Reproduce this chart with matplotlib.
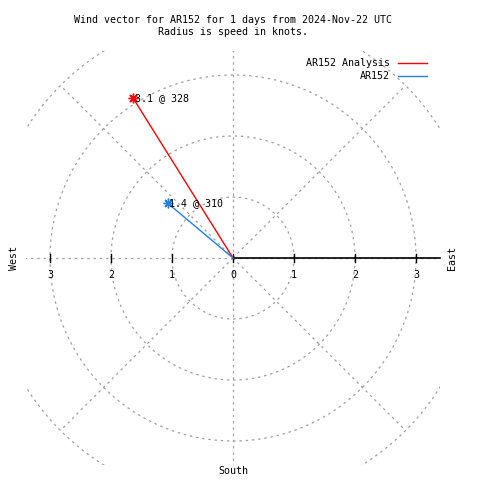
import numpy as np
import matplotlib
matplotlib.use("Agg")
import matplotlib.pyplot as plt

# ================================
# Data
# ================================
names = ["AR152 Analysis", "AR152"]
speeds = [3.1, 1.4]          # knots
directions = [328, 310]      # degrees, clockwise from north
colors = ["#ff0000", "#1f80e8"]
rings = [1, 2, 3, 4]
spokes = [0, 45, 90, 135, 180, 225, 270, 315]
tick_vals = [-3, -2, -1, 0, 1, 2, 3]
tick_text = ["3", "2", "1", "0", "1", "2", "3"]
title = "Wind vector for AR152 for 1 days from 2024-Nov-22 UTC\nRadius is speed in knots."

FONT = "DejaVu Sans Mono"
FS = 7.2
GRID = "#a0a0a0"
DASH = (0, (2, 3))

# ================================
# Figure / axes (box of +-3.4 knots)
# ================================
W = 480
fig = plt.figure(figsize=(4.8, 4.8), dpi=100)
R = 3.4
ppk = 61.0                      # pixels per knot
cx, cy = 233, 258               # centre in pixels (from top)
half = R * ppk
ax = fig.add_axes([(cx - half) / W, (W - cy - half) / W, 2 * half / W, 2 * half / W])
ax.set_xlim(-R, R)
ax.set_ylim(-R, R)
ax.set_aspect("equal")
ax.axis("off")

# grid circles
t = np.linspace(0, 2 * np.pi, 400)
for r in rings:
    ax.plot(r * np.cos(t), r * np.sin(t), color=GRID, lw=0.9, ls=DASH)

# radial spokes (out to the outer ring)
for a in spokes:
    rad = np.deg2rad(a)
    ax.plot([0, rings[-1] * np.cos(rad)], [0, rings[-1] * np.sin(rad)],
            color=GRID, lw=0.9, ls=DASH)

# polar axis (solid) with ticks
ax.plot([0, R], [0, 0], color="black", lw=1.2, clip_on=False)
for v, s in zip(tick_vals, tick_text):
    ax.plot([v, v], [-0.07, 0.07], color="black", lw=1.0)
    ax.text(v, -0.28, s, ha="center", va="center", fontsize=FS, family=FONT, clip_on=False)

# compass labels
ax.text(-3.59, 0, "West", rotation=90, ha="center", va="center", fontsize=FS, family=FONT, clip_on=False)
ax.text(3.59, 0, "East", rotation=90, ha="center", va="center", fontsize=FS, family=FONT, clip_on=False)
ax.text(0, -3.49, "South", ha="center", va="center", fontsize=FS, family=FONT, clip_on=False)

# wind vectors
for spd, d, c in zip(speeds, directions, colors):
    rad = np.deg2rad(d)
    x, y = spd * np.sin(rad), spd * np.cos(rad)
    ax.plot([0, x], [0, y], color=c, lw=1.0)
    ax.plot([x], [y], marker=(8, 2, 0), color=c, ms=7, mew=1.0)
    ax.text(x + 0.03, y, f"{spd:.1f} @ {d}", ha="left", va="center", fontsize=FS, family=FONT)

# title
fig.text(cx / W, 1 - 26 / W, title, ha="center", va="center", fontsize=FS, family=FONT,
         linespacing=1.25)

# legend
for i, (n, c) in enumerate(zip(names, colors)):
    ypix = 63 + 13 * i
    fig.text(390 / W, 1 - ypix / W, n, ha="right", va="center", fontsize=FS, family=FONT)
    fig.add_artist(plt.Line2D([398 / W, 427 / W], [1 - ypix / W, 1 - ypix / W],
                              color=c, lw=1.0))

plt.savefig("out.png", dpi=100)
